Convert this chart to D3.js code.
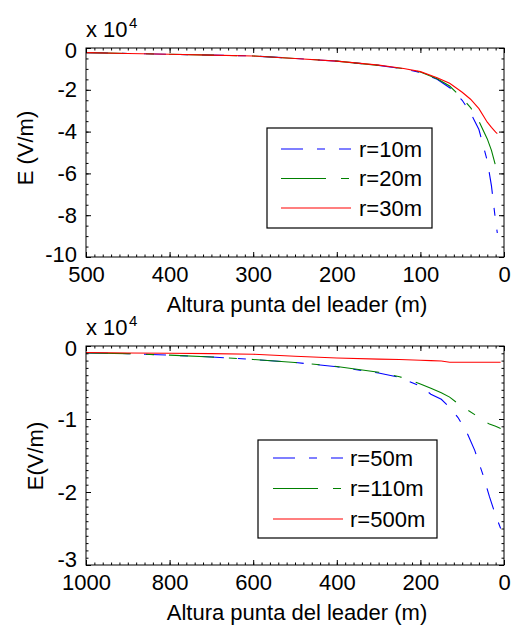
<!DOCTYPE html>
<html>
<head>
<meta charset="utf-8">
<script src="https://cdn.jsdelivr.net/npm/d3@7/dist/d3.min.js"></script>
<style>
html,body{margin:0;padding:0;background:#fff;}
svg{display:block;}
text{font-family:"Liberation Sans", Arial, sans-serif;fill:#000;}
</style>
</head>
<body>
<svg id="chart" width="513" height="628"></svg>
<script>
// ---------- DATA ----------
// Top panel: leader tip height (m) vs E (x 10^4 V/m)
const topHeights = [500, 450, 400, 350, 300, 250, 200, 150, 120, 100, 80, 65, 50, 40, 30, 20, 15, 10, 8];
const topR10 = [-0.22,-0.26,-0.30,-0.34,-0.38,-0.50,-0.63,-0.83,-1.00,-1.17,-1.50,-1.90,-2.50,-3.10,-3.90,-5.40,-6.60,-8.30,-8.85];
const topR20 = [-0.22,-0.26,-0.30,-0.34,-0.38,-0.50,-0.63,-0.83,-0.99,-1.15,-1.47,-1.82,-2.40,-2.85,-3.50,-4.35,-4.90,-5.65,-5.90];
const topR30 = [-0.22,-0.26,-0.30,-0.34,-0.38,-0.50,-0.63,-0.82,-0.98,-1.13,-1.42,-1.69,-2.12,-2.45,-2.90,-3.55,-3.80,-4.03,-4.10];
const topLabels = ["r=10m", "r=20m", "r=30m"];
const topXTicks = [500, 400, 300, 200, 100, 0];
const topYTicks = [0, -2, -4, -6, -8, -10];

// Bottom panel
const botHeights = [1000, 900, 800, 700, 600, 500, 400, 300, 250, 200, 175, 150, 130, 110, 90, 70, 50, 35, 20, 8];
const botR50  = [-0.095,-0.105,-0.125,-0.15,-0.185,-0.225,-0.285,-0.37,-0.43,-0.55,-0.66,-0.73,-0.84,-0.98,-1.17,-1.43,-1.77,-2.06,-2.32,-2.50];
const botR110 = [-0.095,-0.105,-0.125,-0.15,-0.185,-0.225,-0.28,-0.36,-0.42,-0.52,-0.58,-0.64,-0.70,-0.79,-0.865,-0.94,-1.02,-1.07,-1.10,-1.13];
const botR500 = [-0.09,-0.095,-0.10,-0.105,-0.113,-0.14,-0.165,-0.18,-0.185,-0.195,-0.20,-0.205,-0.222,-0.222,-0.222,-0.222,-0.222,-0.222,-0.222,-0.222];
const botLabels = ["r=50m", "r=110m", "r=500m"];
const botXTicks = [1000, 800, 600, 400, 200, 0];
const botYTicks = [0, -1, -2, -3];

const xLabel = "Altura punta del leader (m)";
const colors = ["#0000ff", "#008000", "#ff0000"];
const dashes = ["22,14,8,14", "45,15,8,15", null];

const svg = d3.select("#chart");
const FS = 22;

function panel(opt) {
  const {left, right, top, bottom} = opt;
  const x = d3.scaleLinear().domain(opt.xDomain).range([left, right]);
  const y = d3.scaleLinear().domain(opt.yDomain).range([top, bottom]);
  const g = svg.append("g");
  const clipId = "clip" + opt.id;
  svg.append("clipPath").attr("id", clipId).append("rect")
    .attr("x", left).attr("y", top).attr("width", right - left).attr("height", bottom - top);

  // lines
  const line = d3.line().x(d => x(d[0])).y(d => y(d[1]));
  opt.series.forEach((s, i) => {
    g.append("path")
      .datum(opt.heights.map((h, j) => [h, s[j]]))
      .attr("clip-path", `url(#${clipId})`)
      .attr("fill", "none")
      .attr("stroke", colors[i])
      .attr("stroke-width", 1.1)
      .attr("stroke-dasharray", dashes[i])
      .attr("d", line);
  });

  const xMinor = d3.range(opt.xDomain[1], opt.xDomain[0] + 1e-9, opt.xMinorStep);
  const yMinor = d3.range(opt.yDomain[1], opt.yDomain[0] + 1e-9, opt.yMinorStep);

  function clean(sel) { sel.select(".domain").remove(); sel.selectAll("line").attr("stroke", "#000"); }

  // bottom major with labels
  const gb = g.append("g").attr("transform", `translate(0,${bottom})`)
    .call(d3.axisBottom(x).tickValues(opt.xTicks).tickSize(-5).tickPadding(9).tickFormat(d3.format("d")));
  clean(gb);
  gb.selectAll("text").style("font-size", FS + "px").attr("fill", "#000");
  g.append("g").attr("transform", `translate(0,${bottom})`)
    .call(d3.axisBottom(x).tickValues(xMinor).tickSize(-2.5).tickFormat("")).call(clean);
  // top
  g.append("g").attr("transform", `translate(0,${top})`)
    .call(d3.axisTop(x).tickValues(opt.xTicks).tickSize(-5).tickFormat("")).call(clean);
  g.append("g").attr("transform", `translate(0,${top})`)
    .call(d3.axisTop(x).tickValues(xMinor).tickSize(-2.5).tickFormat("")).call(clean);
  // left
  const yMin = d3.min(opt.yTicks), yMax = d3.max(opt.yTicks);
  const gl = g.append("g").attr("transform", `translate(${left},0)`)
    .call(d3.axisLeft(y).tickValues(opt.yTicks).tickSize(-5).tickPadding(9).tickFormat(d3.format("d")));
  clean(gl);
  gl.selectAll("text").style("font-size", FS + "px").attr("fill", "#000")
    .attr("y", d => d === yMin ? opt.minShift : (d === yMax ? 2 : 0))
    .text(d => d === 0 ? "0" : "-" + Math.abs(d));
  g.append("g").attr("transform", `translate(${left},0)`)
    .call(d3.axisLeft(y).tickValues(yMinor).tickSize(-2.5).tickFormat("")).call(clean);
  // right
  g.append("g").attr("transform", `translate(${right},0)`)
    .call(d3.axisRight(y).tickValues(opt.yTicks).tickSize(-5).tickFormat("")).call(clean);
  g.append("g").attr("transform", `translate(${right},0)`)
    .call(d3.axisRight(y).tickValues(yMinor).tickSize(-2.5).tickFormat("")).call(clean);

  // frame
  g.append("rect").attr("x", left).attr("y", top).attr("width", right - left).attr("height", bottom - top)
    .attr("fill", "none").attr("stroke", "#000").attr("stroke-width", 1);

  // exponent
  g.append("text").attr("x", left).attr("y", top - 11).style("font-size", FS + "px").text("x 10");
  g.append("text").attr("x", left + 43).attr("y", top - 20).style("font-size", "15px").text("4");

  // x label
  g.append("text").attr("x", (left + right) / 2 + 2).attr("y", bottom + 55)
    .attr("text-anchor", "middle").style("font-size", FS + "px").text(xLabel);
  // y label
  g.append("text").attr("transform", `translate(${opt.yLabelX},${opt.yLabelY}) rotate(-90)`)
    .attr("text-anchor", "middle").style("font-size", FS + "px").text(opt.yLabel);

  // legend
  const L = opt.legend;
  g.append("rect").attr("x", L.x).attr("y", L.y).attr("width", L.w).attr("height", L.h)
    .attr("fill", "#fff").attr("stroke", "#000").attr("stroke-width", 1.2);
  opt.labels.forEach((lab, i) => {
    const yy = L.y + L.first + i * L.step;
    g.append("line").attr("x1", L.x + L.lx).attr("x2", L.x + L.lx + 70)
      .attr("y1", yy).attr("y2", yy)
      .attr("stroke", colors[i]).attr("stroke-width", 1.1).attr("stroke-dasharray", dashes[i]);
    g.append("text").attr("x", L.x + L.tx).attr("y", yy).attr("dy", "0.35em")
      .style("font-size", FS + "px").text(lab);
  });
}

panel({
  id: "top", left: 86, right: 504, top: 48, bottom: 257,
  xDomain: [500, 0], yDomain: [0, -10], xTicks: topXTicks, yTicks: topYTicks,
  xMinorStep: 10, yMinorStep: 0.5, minShift: -3,
  heights: topHeights, series: [topR10, topR20, topR30], labels: topLabels,
  yLabel: "E (V/m)", yLabelX: 33, yLabelY: 148,
  legend: {x: 267, y: 128, w: 165, h: 100, first: 21, step: 29.5, lx: 14, tx: 92}
});

panel({
  id: "bot", left: 86, right: 504, top: 346, bottom: 565,
  xDomain: [1000, 0], yDomain: [0, -3], xTicks: botXTicks, yTicks: botYTicks,
  xMinorStep: 20, yMinorStep: 0.1, minShift: -6,
  heights: botHeights, series: [botR50, botR110, botR500], labels: botLabels,
  yLabel: "E(V/m)", yLabelX: 43, yLabelY: 456,
  legend: {x: 258, y: 440, w: 179, h: 98, first: 18, step: 30.5, lx: 15, tx: 92}
});
</script>
</body>
</html>
